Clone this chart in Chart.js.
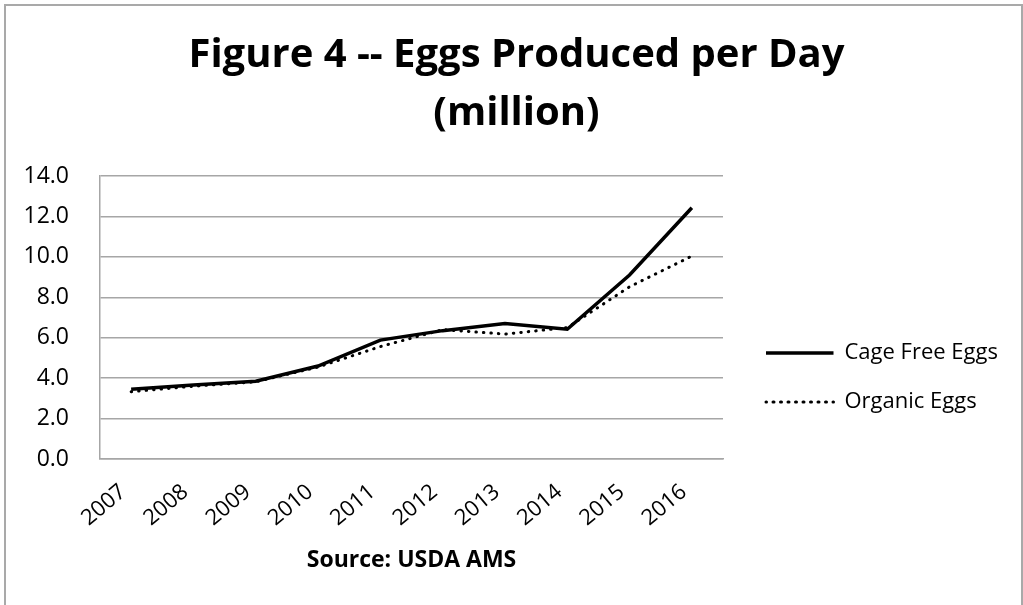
<!DOCTYPE html>
<html>
<head>
<meta charset="utf-8">
<title>Eggs Produced per Day</title>
<script src="https://cdn.jsdelivr.net/npm/chart.js@4.4.0/dist/chart.umd.min.js"></script>
<style>
    html, body { margin: 0; padding: 0; background: #fff; overflow: hidden; }
    #wrap { position: relative; width: 1023px; height: 605px; }
    #wrap canvas { position: absolute; left: 0; top: 0; }
    #frame {
        position: absolute; left: 4px; top: 4px;
        width: 1015px; height: 700px;
        border: 2px solid #a9a9a9;
        pointer-events: none;
    }
</style>
</head>
<body>
<div id="wrap">
    <canvas id="eggsChart" width="1023" height="605"></canvas>
    <div id="frame"></div>
</div>
<script>
// Datos (millones de huevos por dia)
const years = ['2007', '2008', '2009', '2010', '2011', '2012', '2013', '2014', '2015', '2016'];
const cageFree = [3.45, 3.66, 3.85, 4.6, 5.88, 6.35, 6.7, 6.42, 9.1, 12.43];
const organic = [3.33, 3.6, 3.82, 4.55, 5.56, 6.4, 6.18, 6.5, 8.52, 10.04];
const seriesNames = ['Cage Free Eggs', 'Organic Eggs'];

const titleLines = ['Figure 4 -- Eggs Produced per Day', '(million)'];
const sourceLabel = 'Source: USDA AMS';
const yMin = 0;
const yMax = 14;
const yStep = 2;

const fontFamily = "'Open Sans', sans-serif";
Chart.defaults.font.family = fontFamily;
Chart.defaults.color = '#000';

const gridGray = '#a6a6a6';

// Leyenda: medidas para que quede a la derecha como en el original
const legendFont = 22;
const legendBox = 67.5;
const legendPad = 27;
const legendLeft = 739;

const canvas = document.getElementById('eggsChart');
const ctx = canvas.getContext('2d');

ctx.font = legendFont + 'px ' + fontFamily;
const legendTextW = Math.max(...seriesNames.map(n => ctx.measureText(n).width));
const legendW = legendPad + legendBox + legendFont / 2 + legendTextW + 10;
const padRight = canvas.width - legendLeft - legendW;

new Chart(ctx, {
    type: 'line',
    data: {
        labels: years,
        datasets: [
            {
                label: seriesNames[0],
                data: cageFree,
                borderColor: '#000',
                backgroundColor: 'rgba(0,0,0,0)',
                borderWidth: 3.5,
                pointRadius: 0,
                tension: 0
            },
            {
                label: seriesNames[1],
                data: organic,
                borderColor: '#000',
                backgroundColor: 'rgba(0,0,0,0)',
                borderWidth: 3,
                borderDash: [0.5, 7],
                borderCapStyle: 'round',
                pointRadius: 0,
                tension: 0
            }
        ]
    },
    options: {
        responsive: false,
        animation: false,
        layout: {
            padding: { left: 25, right: padRight, top: 0, bottom: 31 }
        },
        plugins: {
            title: {
                display: true,
                text: titleLines,
                color: '#000',
                font: { size: 40, weight: 'bold', lineHeight: 1.45 },
                padding: { top: 27, bottom: 33 }
            },
            legend: {
                position: 'right',
                fullSize: false,
                align: 'center',
                maxWidth: 400,
                title: {
                    // espacio vacio para bajar la leyenda como en el original
                    display: true,
                    text: '',
                    font: { size: 10, lineHeight: 1 },
                    padding: { top: 110, bottom: 0 }
                },
                labels: {
                    boxWidth: legendBox,
                    boxHeight: 0,
                    padding: legendPad,
                    color: '#000',
                    font: { size: legendFont }
                }
            },
            tooltip: { enabled: false }
        },
        scales: {
            x: {
                type: 'category',
                offset: true,
                grid: { display: false, drawTicks: false },
                border: { display: true, color: gridGray, width: 1.5 },
                ticks: {
                    minRotation: 40,
                    maxRotation: 40,
                    padding: 20,
                    labelOffset: -8,
                    color: '#000',
                    font: { size: 22 }
                },
                title: {
                    display: true,
                    text: sourceLabel,
                    color: '#000',
                    font: { size: 23, weight: 'bold' },
                    padding: { top: 10, bottom: 0 }
                },
                afterFit: function(scale) {
                    scale.height = 115;
                }
            },
            y: {
                min: yMin,
                max: yMax,
                grid: { color: gridGray, lineWidth: 1.5, drawTicks: false },
                border: { display: true, color: gridGray, width: 1.5 },
                ticks: {
                    stepSize: yStep,
                    padding: 31,
                    color: '#000',
                    font: { size: 23 },
                    callback: function(value) {
                        return Number(value).toFixed(1);
                    }
                },
                afterFit: function(scale) {
                    scale.width = 75;
                }
            },
            // eje vacio a la derecha: solo deja el hueco entre el grafico y la leyenda
            gap: {
                type: 'linear',
                position: 'right',
                display: true,
                grid: { display: false, drawTicks: false },
                border: { display: false },
                ticks: { display: false },
                afterFit: function(scale) {
                    scale.width = 16;
                }
            }
        }
    }
});
</script>
</body>
</html>
